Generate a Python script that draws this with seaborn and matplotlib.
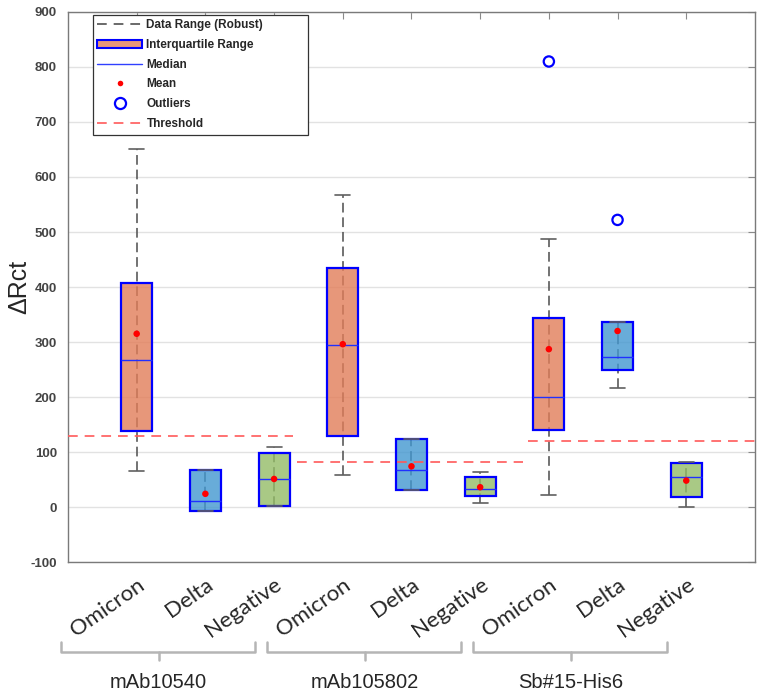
import matplotlib
matplotlib.use("Agg")
import matplotlib.pyplot as plt
from matplotlib.lines import Line2D
from matplotlib.patches import Patch
import numpy as np
import pandas as pd
import seaborn as sns

# data
groups = ["mAb10540", "mAb105802", "Sb#15-His6"]
variants = ["Omicron", "Delta", "Negative"]
whislo = [65, -8, 2, 59, 31, 8, 22, 217, 0]
q1 = [139, -8, 2, 130, 31, 20, 140, 249, 19]
med = [267, 11, 51, 294, 67, 33, 200, 273, 54]
q3 = [408, 67, 98, 434, 123, 54, 344, 336, 80]
whishi = [650, 67, 110, 567, 123, 63, 488, 336, 81]
means = [315, 24, 51, 296, 74, 36, 287, 320, 48]
outlier_box = [7, 8]
outlier_val = [810, 522]
thresholds = [130, 81, 120]
thr_span = [(0, 3.27), (3.33, 6.62), (6.7, 10)]

face = {"Omicron": "#E27D59", "Delta": "#4297D0", "Negative": "#94BC67"}

sns.set_style("white")
plt.rcParams["font.family"] = ["Liberation Sans", "DejaVu Sans"]
plt.rcParams["lines.scale_dashes"] = False
plt.rcParams["axes.unicode_minus"] = False

labels = variants * 3
pos = np.arange(1, 10)

fig = plt.figure(figsize=(7.57, 6.93), dpi=100)
ax = fig.add_axes([0.0898, 0.189, 0.9075, 0.7937])

ax.grid(axis="y", color="#e2e2e2", lw=1)
ax.set_axisbelow(True)

# full whisker range, dashed, under the box
ax.vlines(pos, whislo, whishi, colors="#5a5a5a", lw=1.2,
          linestyles=[(0, (7, 3.5))], zorder=1.5)

stats = []
for i in range(9):
    stats.append(dict(whislo=whislo[i], q1=q1[i], med=med[i], q3=q3[i],
                      whishi=whishi[i], fliers=[], label=labels[i]))
bp = ax.bxp(stats, positions=pos, widths=0.45, patch_artist=True,
            showfliers=False, capwidths=0.22,
            boxprops=dict(edgecolor="#0000ff", lw=1.6),
            medianprops=dict(color="#2030ff", lw=1),
            whiskerprops=dict(color="#606060", lw=0),
            capprops=dict(color="#606060", lw=1.2))
for patch, lab in zip(bp["boxes"], labels):
    patch.set_facecolor(matplotlib.colors.to_rgba(face[lab], 0.8))
    patch.set_edgecolor("#0000ff")
    patch.set_zorder(2)

df_mean = pd.DataFrame({"x": pos, "y": means})
sns.scatterplot(data=df_mean, x="x", y="y", ax=ax, color="red", s=22,
                edgecolor="none", zorder=4)
df_out = pd.DataFrame({"x": outlier_box, "y": outlier_val})
sns.scatterplot(data=df_out, x="x", y="y", ax=ax, s=55, facecolor="none",
                edgecolor="#0000ff", linewidth=1.6, zorder=4)

for t, (a, b) in zip(thresholds, thr_span):
    ax.plot([a, b], [t, t], color="#ff5a5a", lw=1.2,
            linestyle=(0, (7, 5)), zorder=3)

ax.set_xlim(0, 10)
ax.set_ylim(-100, 900)
ax.set_yticks(np.arange(-100, 901, 100))
ax.set_xticks(pos)
ax.set_xticklabels(labels, rotation=35, ha="right", va="top",
                   rotation_mode="anchor", fontsize=16, family="Lato")
for lbl in ax.get_yticklabels():
    lbl.set_fontweight("bold")
ax.tick_params(axis="y", labelsize=9.5, labelcolor="#444444", pad=8)
ax.tick_params(axis="x", pad=9)
ax.tick_params(direction="in", top=True, right=True, length=5,
               color="#8a8a8a", width=0.8)
ax.set_xlabel("")
ax.set_ylabel("ΔRct", fontsize=18)
ax.yaxis.set_label_coords(-0.053, 0.5)
for s in ax.spines.values():
    s.set_color("#7a7a7a")
    s.set_linewidth(1)

# group brackets below the category labels
trans = ax.get_xaxis_transform()
for k, g in enumerate(groups):
    c = 2 + 3 * k
    x0, x1, xm = c - 2.1, c + 0.72, c - 0.68
    ax.plot([x0, x0, x1, x1], [-0.145, -0.1636, -0.1636, -0.145],
            transform=trans, clip_on=False, color="#b5b5b5", lw=1.8)
    ax.plot([xm, xm], [-0.1636, -0.178], transform=trans, clip_on=False,
            color="#b5b5b5", lw=1.8)
    ax.text(xm, -0.219, g, transform=trans, ha="center", va="center",
            fontsize=14.5)

handles = [
    Line2D([], [], color="#505050", lw=1.2, linestyle=(0, (7, 5))),
    Patch(facecolor="#E8977A", edgecolor="#0000ff", lw=1.5),
    Line2D([], [], color="#3040ff", lw=1),
    Line2D([], [], color="red", marker="o", ms=4, lw=0, markeredgecolor="none"),
    Line2D([], [], color="#0000ff", marker="o", ms=8, lw=0, mfc="none", mew=1.6),
    Line2D([], [], color="#ff5a5a", lw=1.2, linestyle=(0, (7, 5))),
]
names = ["Data Range (Robust)", "Interquartile Range", "Median", "Mean",
         "Outliers", "Threshold"]
leg = ax.legend(handles, names, loc="upper left",
                bbox_to_anchor=(0.036, 0.775, 0.313, 0.22), mode="expand",
                borderaxespad=0, prop=dict(weight="bold", size=8.5),
                frameon=True, fancybox=False, framealpha=1, edgecolor="#333333",
                handlelength=3.8, handletextpad=0.35, labelspacing=0.65,
                borderpad=0.4)
leg.get_frame().set_linewidth(0.9)

plt.savefig("out.png", dpi=100)
